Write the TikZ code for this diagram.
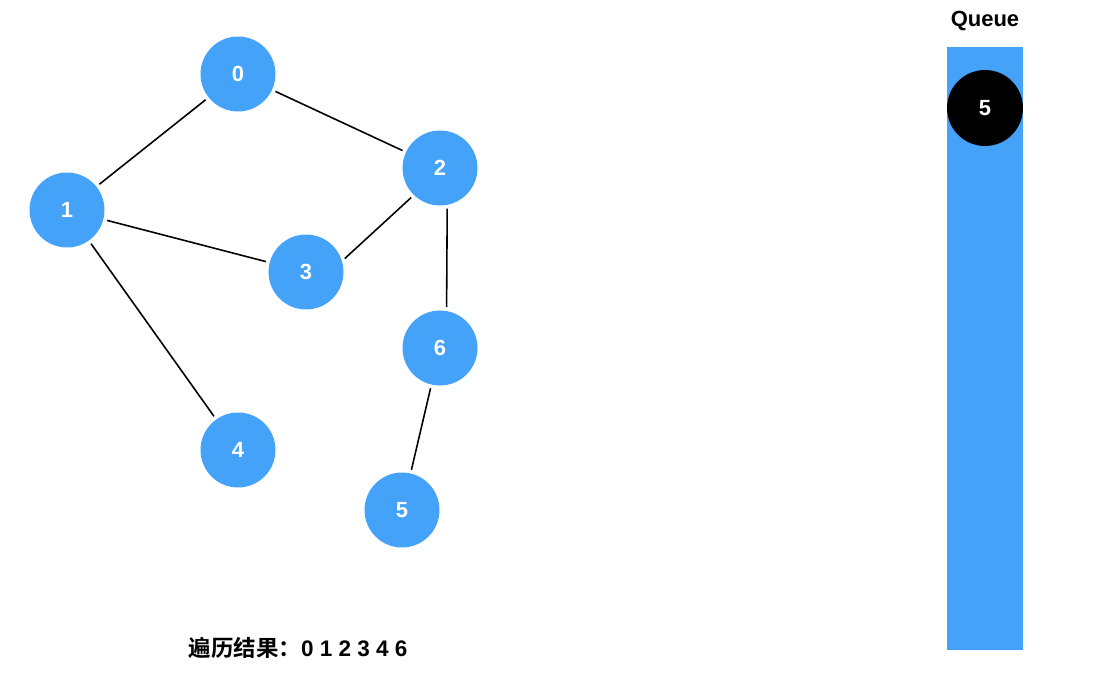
\documentclass[tikz,border=0pt]{standalone}
\usepackage{fontspec}
\setmainfont{Liberation Sans}
\newfontfamily\cjk{Noto Sans CJK SC}[BoldFont={* Bold}]
\usetikzlibrary{positioning}
\definecolor{nodeblue}{HTML}{44A2F8}
\tikzstyle{vert}=[circle,fill=nodeblue,minimum size=1.5cm,inner sep=0pt,text=white,font=\fontsize{12.5}{14}\selectfont\bfseries]
\tikzstyle{link}=[line width=0.9pt,shorten <=2pt,shorten >=2pt]

\begin{document}
\begin{tikzpicture}[x=0.02cm,y=-0.02cm]
  \useasboundingbox (0,0) rectangle (1118,686);
  \node[vert] (v0) at (238,74) {0};
  \node[vert] (v1) at (67,210) {1};
  \node[vert] (v2) at (440,168) {2};
  \node[vert] (v3) at (306,272) {3};
  \node[vert] (v6) at (440,348) {6};
  \node[vert] (v4) at (238,450) {4};
  \node[vert] (v5) at (402,510) {5};
  \draw[link] (v1) -- (v0);
  \draw[link] (v0) -- (v2);
  \draw[link] (v1) -- (v3);
  \draw[link] (v2.226) -- (v3.17);
  \draw[link] (v2.281) -- (v6.80);
  \draw[link] (v1) -- (v4);
  \draw[link] (v6) -- (v5);
  \node[fill=nodeblue,minimum width=1.52cm,minimum height=12.06cm,inner sep=0pt,anchor=north] (queue) at (985,47) {};
  \node[font=\fontsize{12.5}{14}\selectfont\bfseries,above=0.2cm of queue.north] (qlabel) {Queue};
  \node[vert,fill=black,minimum size=1.52cm] (q5) at (985,108) {5};
  \node[font=\fontsize{12.8}{15}\selectfont\bfseries] (result) at (298,648) {{\cjk 遍历结果：}0 1 2 3 4 6};
\end{tikzpicture}
\end{document}
